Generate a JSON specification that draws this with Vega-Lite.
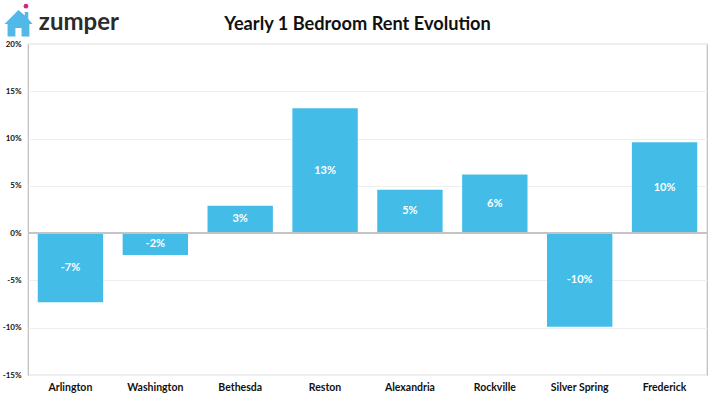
{"$schema":"https://vega.github.io/schema/vega-lite/v6.json","width":679,"height":331,"autosize":"none","padding":{"left":28,"top":44,"right":13,"bottom":30},"background":"white","title":{"text":"Yearly 1 Bedroom Rent Evolution","font":"Lato","fontWeight":"bold","fontSize":18.2,"color":"#111111","anchor":"middle","dx":-10,"offset":-30},"config":{"view":{"stroke":"#bdbdbd","strokeWidth":1.2}},"datasets":{"rent":[{"city":"Arlington","change":-7.3,"label":"-7%"},{"city":"Washington","change":-2.3,"label":"-2%"},{"city":"Bethesda","change":2.9,"label":"3%"},{"city":"Reston","change":13.2,"label":"13%"},{"city":"Alexandria","change":4.6,"label":"5%"},{"city":"Rockville","change":6.2,"label":"6%"},{"city":"Silver Spring","change":-9.9,"label":"-10%"},{"city":"Frederick","change":9.6,"label":"10%"}],"house":[{"lx":-1.4,"ly":22.2}],"dot":[{"lx":-0.3,"ly":24}],"word":[{"lx":1.6,"ly":22.2,"t":"zumper"}]},"layer":[{"data":{"name":"rent"},"mark":{"type":"bar","color":"#44bce8"},"encoding":{"x":{"field":"city","type":"nominal","sort":null,"scale":{"paddingInner":0.23,"paddingOuter":0.115},"axis":{"title":null,"labelAngle":0,"labelFont":"Lato","labelFontWeight":"bold","labelFontSize":10.5,"labelColor":"#111111","ticks":false,"domain":false,"labelPadding":7}},"y":{"field":"change","type":"quantitative","scale":{"domain":[-15,20],"nice":false},"axis":{"title":null,"values":[-15,-10,-5,0,5,10,15,20],"labelExpr":"datum.value+'%'","labelFont":"Lato","labelFontWeight":"bold","labelFontSize":8,"labelColor":"#111111","ticks":false,"domain":false,"labelPadding":7,"grid":true,"gridColor":"#eeeeee","gridWidth":1}}}},{"data":{"name":"rent"},"mark":{"type":"rule","color":"#c4c4c4","strokeWidth":1},"encoding":{"y":{"datum":0,"type":"quantitative"}}},{"data":{"name":"rent"},"mark":{"type":"text","font":"Lato","fontWeight":"bold","fontSize":11,"color":"white"},"transform":[{"calculate":"datum.change/2","as":"mid"}],"encoding":{"x":{"field":"city","type":"nominal","sort":null,"scale":{"paddingInner":0.23,"paddingOuter":0.115},"axis":null},"y":{"field":"mid","type":"quantitative"},"text":{"field":"label"}}},{"data":{"name":"house"},"mark":{"type":"point","filled":true,"opacity":1,"clip":false,"color":"#52b8e8","shape":"M0,-0.95 L0.45,-0.55 L0.45,-0.8 L0.7,-0.8 L0.7,-0.3 L1,0.05 L0.78,0.05 L0.78,0.95 L0.22,0.95 L0.22,0.35 L-0.22,0.35 L-0.22,0.95 L-0.78,0.95 L-0.78,0.05 L-1,0.05 Z","size":784},"encoding":{"x":{"field":"lx","type":"quantitative","scale":{"domain":[0,100]},"axis":null},"y":{"field":"ly","type":"quantitative"}}},{"data":{"name":"dot"},"mark":{"type":"point","filled":true,"opacity":1,"clip":false,"color":"#d6247f","shape":"circle","size":22},"encoding":{"x":{"field":"lx","type":"quantitative","scale":{"domain":[0,100]},"axis":null},"y":{"field":"ly","type":"quantitative"}}},{"data":{"name":"word"},"mark":{"type":"text","align":"left","baseline":"middle","font":"Lato","fontWeight":"bold","fontSize":24,"color":"#2b2b2b","clip":false},"encoding":{"x":{"field":"lx","type":"quantitative","scale":{"domain":[0,100]},"axis":null},"y":{"field":"ly","type":"quantitative"},"text":{"field":"t"}}}],"resolve":{"scale":{"x":"independent"}}}
